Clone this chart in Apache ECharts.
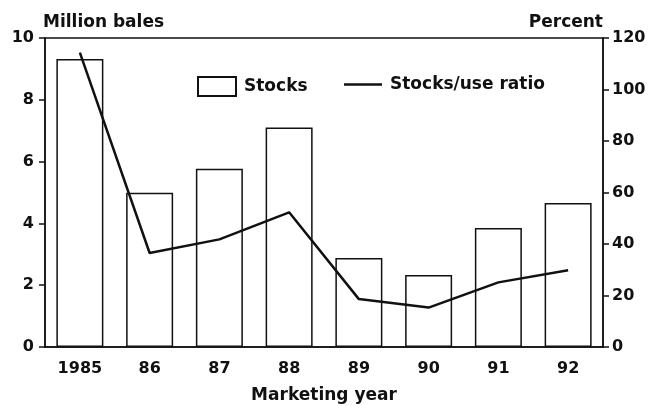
<!DOCTYPE html>
<html>
<head>
<meta charset="utf-8">
<script src="https://cdn.jsdelivr.net/npm/echarts@6/dist/echarts.min.js"></script>
<style>
  html, body { margin: 0; padding: 0; background: #fff; }
  #chart { width: 657px; height: 406px; }
</style>
</head>
<body>
<div id="chart"></div>
<script>
// 数据
const years = ['1985', '86', '87', '88', '89', '90', '91', '92']
const stocks = [9.32, 4.99, 5.77, 7.10, 2.88, 2.33, 3.85, 4.66]
const stocksUseRatio = [114.3, 36.5, 41.8, 52.3, 18.6, 15.3, 25.1, 29.8]

const ink = '#111'
const font = 'DejaVu Sans'

const chart = echarts.init(document.getElementById('chart'))

const option = {
  backgroundColor: '#fff',
  animation: false,
  textStyle: { fontFamily: font, color: ink },
  grid: {
    left: 45, right: 54, top: 38, bottom: 59,
    outerBoundsMode: 'none',
    show: true, borderColor: ink, borderWidth: 1.5
  },
  legend: [
    {
      data: ['Stocks'],
      left: 192, top: 71,
      itemWidth: 38, itemHeight: 19,
      icon: 'rect',
      textStyle: { fontFamily: font, fontWeight: 'bold', fontSize: 17, color: ink, padding: [0, 0, 0, 3] }
    },
    {
      // 图例只画一条线
      data: ['Stocks/use ratio'],
      left: 339, top: 71,
      itemWidth: 38, itemHeight: 2.5,
      icon: 'rect',
      textStyle: { fontFamily: font, fontWeight: 'bold', fontSize: 17, color: ink, padding: [0, 0, 0, 3] }
    }
  ],
  xAxis: {
    type: 'category',
    data: years,
    name: 'Marketing year',
    nameLocation: 'middle',
    nameGap: 40,
    nameTextStyle: { fontFamily: font, fontWeight: 'bold', fontSize: 17, color: ink },
    axisLine: { lineStyle: { color: ink, width: 1.5 } },
    axisTick: { alignWithLabel: true, length: 7, lineStyle: { color: ink, width: 1.5 } },
    axisLabel: { fontFamily: font, fontWeight: 'bold', fontSize: 16, color: ink, margin: 14 }
  },
  yAxis: [
    {
      type: 'value',
      min: 0, max: 10, interval: 2,
      name: 'Million bales',
      nameLocation: 'end',
      nameGap: 7,
      nameTextStyle: { fontFamily: font, fontWeight: 'bold', fontSize: 17, color: ink, align: 'left', padding: [0, 0, 0, -2] },
      axisLine: { show: true, lineStyle: { color: ink, width: 1.5 } },
      axisTick: { show: true, length: 6, lineStyle: { color: ink, width: 1.5 } },
      axisLabel: { fontFamily: font, fontWeight: 'bold', fontSize: 16, color: ink, margin: 11 },
      splitLine: { show: false }
    },
    {
      type: 'value',
      min: 0, max: 120, interval: 20,
      name: 'Percent',
      nameLocation: 'end',
      nameGap: 7,
      nameTextStyle: { fontFamily: font, fontWeight: 'bold', fontSize: 17, color: ink, align: 'right' },
      axisLine: { show: true, lineStyle: { color: ink, width: 1.5 } },
      axisTick: { show: true, length: 6, lineStyle: { color: ink, width: 1.5 } },
      axisLabel: { fontFamily: font, fontWeight: 'bold', fontSize: 16, color: ink, margin: 9 },
      splitLine: { show: false }
    }
  ],
  series: [
    {
      name: 'Stocks',
      type: 'bar',
      data: stocks,
      barWidth: 47,
      itemStyle: { color: '#fff', borderColor: ink, borderWidth: 1.5 }
    },
    {
      name: 'Stocks/use ratio',
      type: 'line',
      yAxisIndex: 1,
      data: stocksUseRatio,
      symbol: 'none',
      lineStyle: { color: ink, width: 2.5 },
      itemStyle: { color: ink }
    }
  ]
}

chart.setOption(option)
</script>
</body>
</html>
